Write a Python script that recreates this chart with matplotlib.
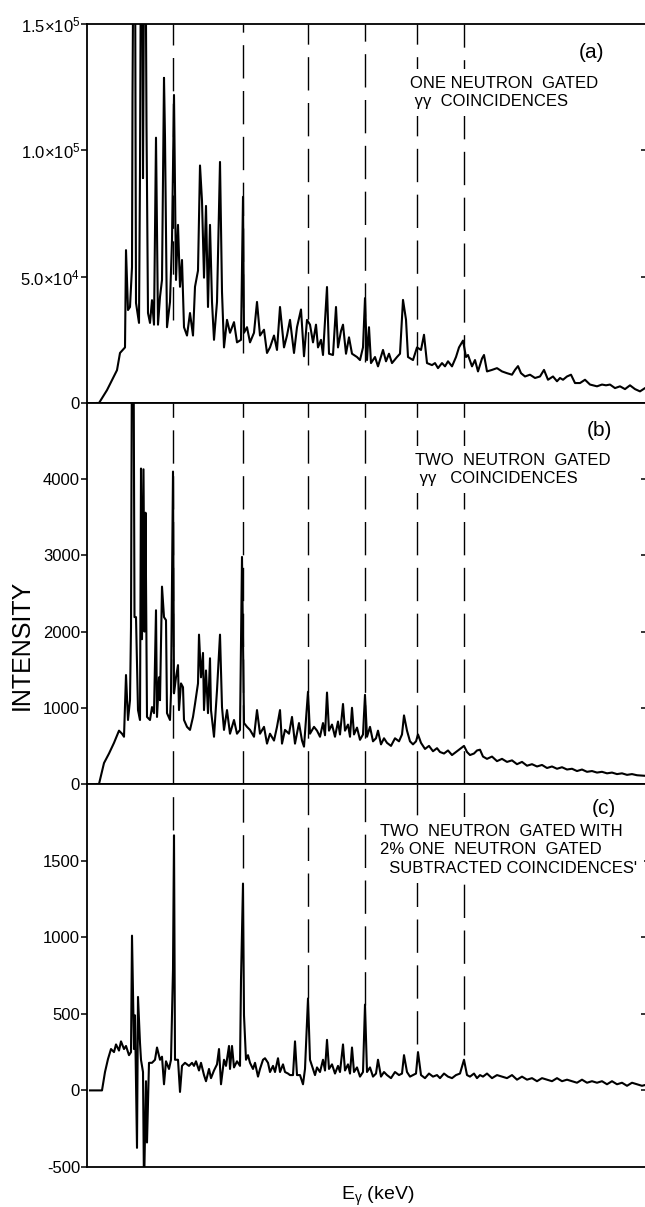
import numpy as np
import matplotlib
matplotlib.use("Agg")
import matplotlib.pyplot as plt

plt.rcParams['font.family'] = ['Liberation Sans', 'DejaVu Sans']
plt.rcParams['mathtext.fontset'] = 'custom'
plt.rcParams['mathtext.rm'] = 'Liberation Sans'
plt.rcParams['mathtext.it'] = 'Liberation Sans'
plt.rcParams['axes.unicode_minus'] = False

# channel positions (x) and counts
chan_a = [10, 12, 20, 30, 33, 38, 39, 41, 43, 45, 45.5, 46.5, 48, 49, 52, 53, 54, 55.5, 56, 57, 58.5, 59.5,
          61, 63, 65, 67, 69, 71, 73, 75, 77, 78, 80, 83, 85, 87, 89, 91, 93, 95, 97, 100, 103, 106, 108,
          111, 113, 115, 117, 119, 121, 123, 125, 127, 130, 133, 135, 137, 140, 143, 147, 150, 154, 156,
          157, 160, 163, 167, 170, 173, 177, 180, 183, 187, 190, 193, 197, 200, 203, 207, 210, 214, 217,
          220, 223, 226, 229, 231, 234, 236, 240, 242, 246, 249, 251, 254, 256, 259, 262, 265, 270, 273,
          276, 278, 280, 282, 284, 288, 291, 296, 299, 302, 305, 310, 313, 316, 319, 321, 326, 330, 334,
          337, 340, 345, 348, 351, 355, 358, 361, 365, 369, 372, 376, 379, 381, 385, 388, 391, 395, 397,
          400, 405, 410, 415, 420, 425, 428, 431, 434, 438, 443, 448, 453, 457, 461, 466, 470, 473, 476,
          480, 484, 488, 493, 498, 503, 510, 515, 519, 523, 528, 533, 538, 543, 548, 553, 558, 561]
cnt_a = [0, 0, 5100, 13000, 19800, 22000, 60500, 36800, 38000, 53800, 121000, 190000, 190000, 39600, 31700,
         92000, 190000, 160000, 89000, 170000, 190000, 110000, 35600, 31700, 40700, 31000, 105000, 31000,
         42000, 48700, 128700, 105000, 30000, 40000, 64500, 121900, 48700, 70500, 46000, 56600, 30000,
         26700, 35600, 26700, 46000, 52400, 94000, 80000, 49600, 78000, 38000, 70500, 40000, 25000, 40000,
         95400, 44000, 22000, 32900, 27800, 32000, 24000, 25000, 81600, 27800, 30000, 24000, 27800, 40000,
         26700, 29000, 19800, 22000, 26700, 21000, 38000, 22000, 26700, 32900, 19800, 30000, 37000, 18500,
         32900, 31000, 24000, 31000, 22000, 25000, 19000, 45900, 19500, 19000, 38000, 22000, 28500, 31000,
         19500, 26000, 19500, 18200, 17000, 22000, 41500, 17000, 30000, 15800, 18200, 14500, 21000, 16500,
         19500, 15800, 18200, 19500, 40800, 33000, 18200, 17000, 22000, 21000, 27000, 15800, 15000, 15800,
         13800, 15800, 14500, 16500, 14500, 18200, 22000, 24700, 18200, 19000, 14500, 17000, 12500, 17600,
         19000, 12500, 13100, 13800, 12500, 11800, 11200, 13100, 14600, 11800, 10500, 11200, 9900, 10500,
         13100, 9200, 10500, 8600, 9900, 9200, 10500, 11200, 7900, 7900, 9200, 7300, 6600, 7300, 7000, 7300,
         5900, 6600, 5500, 7000, 5500, 4600, 5900, 6000]

chan_b = [10, 12, 17, 22, 27, 32, 35, 37, 39, 41, 43, 44, 45, 46.5, 47.5, 49, 51, 53, 54, 55, 56.5, 57.5,
          58.5, 60, 63, 65, 67, 69, 70, 72, 73, 75, 77, 79, 80, 83, 84, 86, 87, 89, 91, 92, 94, 96, 97, 100,
          103, 106, 108, 111, 112, 114, 116, 117, 119, 121, 123, 124, 127, 130, 133, 135, 137, 140, 143,
          147, 150, 153, 155, 157, 160, 163, 167, 170, 173, 177, 180, 183, 187, 190, 193, 195, 198, 202,
          205, 208, 212, 215, 217, 221, 223, 227, 230, 233, 236, 238, 240, 242, 245, 248, 251, 253, 256,
          258, 261, 263, 265, 267, 270, 273, 276, 278, 280, 283, 286, 289, 291, 294, 297, 300, 304, 308,
          312, 315, 317, 320, 323, 326, 329, 331, 334, 338, 342, 346, 350, 353, 357, 361, 365, 369, 373,
          377, 380, 383, 387, 390, 393, 396, 400, 405, 410, 415, 420, 425, 430, 435, 440, 445, 450, 455,
          460, 465, 470, 475, 480, 485, 490, 495, 500, 505, 510, 515, 520, 525, 530, 535, 540, 545, 550,
          555, 561]
cnt_b = [0, 0, 275, 400, 540, 700, 660, 620, 1430, 840, 1100, 2060, 6000, 6000, 2190, 2190, 970, 840, 4140,
         1900, 4130, 2000, 3560, 880, 840, 1010, 930, 2280, 880, 1400, 1100, 2590, 2190, 2150, 930, 840, 1190,
         4100, 1190, 1400, 1560, 970, 1320, 1270, 840, 750, 710, 880, 1050, 1320, 1960, 1400, 1720, 970,
         1490, 930, 1650, 970, 620, 1230, 1960, 1010, 710, 970, 660, 840, 660, 710, 2980, 800, 750, 710, 620,
         970, 660, 750, 530, 660, 570, 750, 970, 530, 710, 660, 880, 530, 800, 570, 490, 1210, 660, 750, 700,
         620, 800, 640, 1200, 700, 780, 620, 820, 650, 1050, 700, 780, 620, 1000, 650, 740, 580, 650, 1170,
         620, 750, 560, 600, 700, 520, 600, 540, 500, 600, 560, 650, 900, 700, 560, 520, 560, 650, 540, 460,
         500, 430, 470, 420, 400, 440, 380, 420, 460, 500, 420, 380, 400, 440, 450, 360, 330, 360, 300, 330,
         290, 310, 260, 290, 240, 260, 230, 250, 210, 230, 200, 220, 190, 200, 170, 190, 160, 170, 150, 160,
         140, 150, 130, 140, 120, 130, 115, 110, 105]

chan_c = [3, 15, 18, 21, 24, 27, 29, 32, 34, 37, 39, 42, 44, 45, 47, 48, 50, 51, 53, 54, 56, 57, 59, 60, 62,
          65, 68, 70, 73, 75, 77, 79, 82, 84, 86, 87, 88, 91, 93, 95, 98, 102, 105, 107, 109, 112, 114, 117,
          119, 122, 124, 127, 130, 132, 134, 137, 139, 142, 143, 145, 147, 150, 153, 154, 156, 157, 159, 161,
          163, 166, 168, 171, 173, 176, 178, 181, 183, 186, 188, 191, 193, 196, 198, 201, 203, 206, 208, 210,
          213, 216, 218, 221, 223, 225, 228, 230, 233, 236, 238, 240, 242, 245, 248, 251, 253, 256, 258, 261,
          263, 265, 267, 270, 273, 276, 278, 280, 283, 286, 289, 291, 294, 297, 300, 304, 308, 312, 315, 317,
          320, 323, 326, 329, 331, 334, 338, 342, 346, 350, 353, 357, 361, 365, 369, 373, 377, 380, 383, 387,
          390, 393, 396, 400, 405, 410, 415, 420, 425, 430, 435, 440, 445, 450, 455, 460, 465, 470, 475, 480,
          485, 490, 495, 500, 505, 510, 515, 520, 525, 530, 535, 540, 545, 550, 555, 561]
cnt_c = [0, 0, 120, 205, 270, 250, 300, 260, 320, 270, 290, 230, 250, 1010, 270, 490, -375, 610, 310, 200,
         120, -650, 60, -340, 180, 180, 200, 280, 200, 220, 40, 190, 140, 200, 790, 1665, 200, 200, -10, 160,
         180, 160, 180, 160, 190, 130, 180, 100, 60, 140, 80, 130, 170, 270, 40, 200, 160, 290, 140, 290, 150,
         190, 160, 720, 1350, 490, 200, 230, 180, 140, 180, 90, 140, 200, 210, 180, 120, 160, 120, 210, 120,
         170, 120, 110, 100, 100, 320, 100, 100, 40, 140, 600, 200, 160, 100, 150, 120, 200, 130, 330, 140,
         170, 110, 160, 120, 300, 130, 170, 110, 280, 120, 150, 90, 120, 560, 120, 150, 90, 110, 200, 90, 120,
         100, 80, 120, 100, 110, 230, 120, 90, 100, 110, 250, 100, 80, 110, 90, 100, 80, 110, 90, 80, 100, 110,
         200, 100, 90, 110, 80, 100, 90, 110, 80, 100, 90, 80, 100, 70, 90, 70, 80, 60, 80, 70, 60, 80, 60, 70,
         60, 50, 70, 50, 60, 50, 60, 40, 60, 40, 50, 30, 50, 40, 30, 40]

# dashed guide lines: channel, start in (a), end in (c)
guide_chan = [86, 156, 221, 278, 330, 377]
guide_top = [32900, 19800, 15000, 16200, 15000, 13800]
guide_bot = [1700, 1450, 600, 560, 300, 230]

yticks_a = [0, 5e4, 1e5, 1.5e5]
ylabels_a = ['0', r'5.0$\times$10$^4$', r'1.0$\times$10$^5$', r'1.5$\times$10$^5$']
yticks_b = [0, 1000, 2000, 3000, 4000]
yticks_c = [-500, 0, 500, 1000, 1500]

fig = plt.figure(figsize=(6.45, 12.07), dpi=100)
W, H = 645.0, 1207.0
left, right = 87, 648

def mkax(top, bot):
    return fig.add_axes([left / W, 1 - bot / H, (right - left) / W, (bot - top) / H])

ax_a = mkax(24, 403)
ax_b = mkax(403, 784)
ax_c = mkax(784, 1167)

dash = (0, (24, 9))
panels = [(ax_a, chan_a, cnt_a, (0, 1.5e5), yticks_a),
          (ax_b, chan_b, cnt_b, (0, 5000), yticks_b),
          (ax_c, chan_c, cnt_c, (-500, 2000), yticks_c)]
for ax, x, y, ylim, yt in panels:
    ax.plot(x, y, color='black', lw=1.5, zorder=3)
    ax.set_xlim(0, 561)
    ax.set_ylim(*ylim)
    ax.set_xticks([])
    ax.set_yticks(yt)
    for s in ax.spines.values():
        s.set_linewidth(1.3)
    ax.tick_params(axis='y', direction='out', length=4, width=1.1, pad=1, labelsize=12)
    # small inward ticks on the right-hand frame
    sec = ax.secondary_yaxis('right')
    sec.set_yticks([t for t in yt if ylim[0] < t < ylim[1]])
    sec.tick_params(direction='in', length=5, width=1.1, labelright=False)

ax_a.set_yticklabels(ylabels_a)

for x, ya, yc in zip(guide_chan, guide_top, guide_bot):
    ax_a.plot([x, x], [ya, 1.5e5 * 0.999], color='black', lw=1.0, ls=dash, zorder=1)
    ax_b.axvline(x, color='black', lw=1.0, ls=dash, zorder=1)
    ax_c.plot([x, x], [yc, 2000], color='black', lw=1.0, ls=dash, zorder=1)

box = dict(facecolor='white', edgecolor='none', pad=5)
tkw = dict(fontsize=12, zorder=5, bbox=box, va='center', ha='left', linespacing=1.3)

ax_a.text(0.900, 0.926, '(a)', transform=ax_a.transAxes, fontsize=15, ha='center', va='center')
ax_a.text(0.576, 0.819, 'ONE NEUTRON  GATED\n γγ  COINCIDENCES', transform=ax_a.transAxes, **tkw)

ax_b.text(0.914, 0.927, '(b)', transform=ax_b.transAxes, fontsize=15, ha='center', va='center')
ax_b.text(0.585, 0.825, 'TWO  NEUTRON  GATED\n γγ   COINCIDENCES', transform=ax_b.transAxes, **tkw)

ax_c.text(0.922, 0.937, '(c)', transform=ax_c.transAxes, fontsize=15, ha='center', va='center')
ax_c.text(0.522, 0.828, 'TWO  NEUTRON  GATED WITH\n2% ONE  NEUTRON  GATED\n  SUBTRACTED COINCIDENCES\'',
          transform=ax_c.transAxes, **tkw)

fig.text(22 / W, 1 - 645 / H, 'INTENSITY', rotation=90, fontsize=18, ha='center', va='center')
fig.text(378 / W, 1 - 1196 / H, r'E$_{\mathrm{\gamma}}$ (keV)', fontsize=14, ha='center', va='center')

fig.savefig('out.png', dpi=100)
